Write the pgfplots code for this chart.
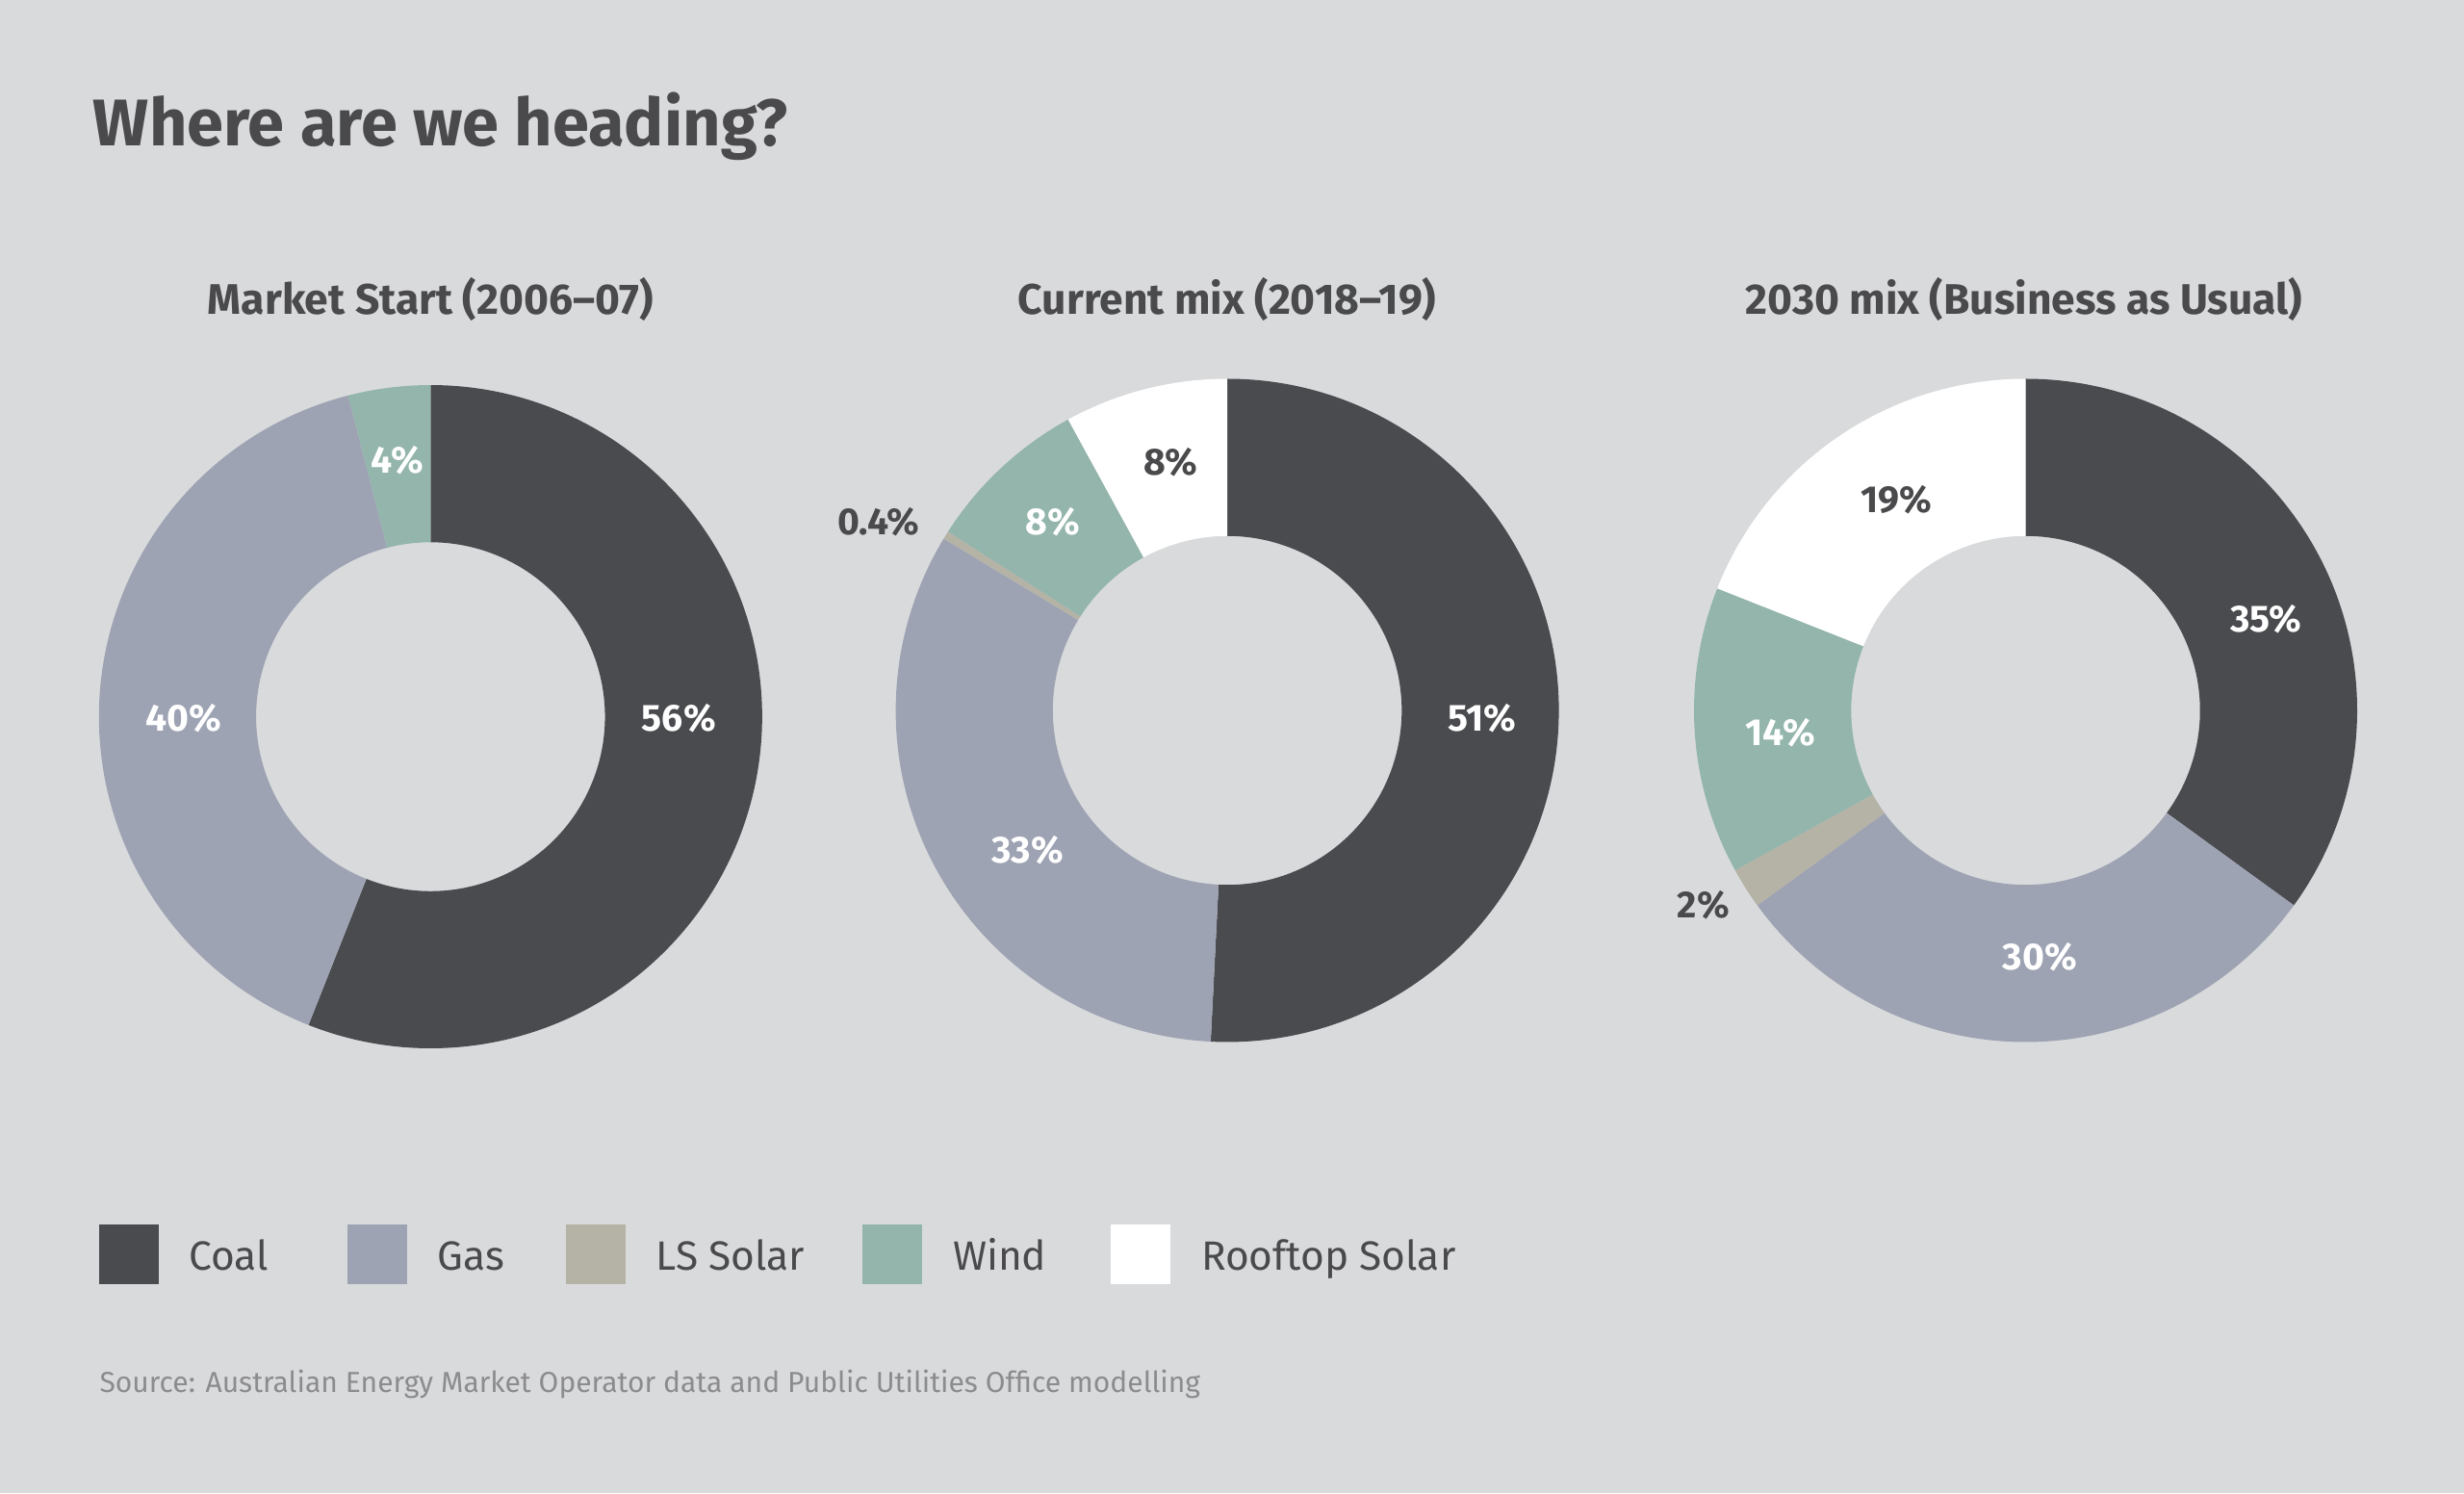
\documentclass[border=0pt]{standalone}
\usepackage{pgfplots}
\pgfplotsset{compat=1.18}
\usepackage{pgfplotstable}
\usepackage{fontspec}
\setmainfont{Fira Sans}

\definecolor{bg}{HTML}{D9DADC}
\definecolor{coal}{HTML}{4A4B4F}
\definecolor{gas}{HTML}{9EA3B3}
\definecolor{lssolar}{HTML}{B5B2A6}
\definecolor{wind}{HTML}{93B5AC}
\definecolor{roof}{HTML}{FFFFFF}
\definecolor{ink}{HTML}{4A4A4C}
\definecolor{note}{HTML}{8C8C8E}

% shares of generation, in per cent
\pgfplotstableread{
source value col
Coal 56 coal
Gas 40 gas
Wind 4 wind
}\mixstart

\pgfplotstableread{
source value col
Coal 51 coal
Gas 33 gas
LSSolar 0.4 lssolar
Wind 8 wind
Rooftop 8 roof
}\mixnow

\pgfplotstableread{
source value col
Coal 35 coal
Gas 30 gas
LSSolar 2 lssolar
Wind 14 wind
Rooftop 19 roof
}\mixbau

\def\Ro{105.5pt}
\def\Ri{55.5pt}
\def\dR{50pt}

% donut: table, centre x, centre y (axis units), clockwise from 12 o'clock
\newcommand\donut[3]{%
  \pgfplotstablegetrowsof{#1}\pgfmathtruncatemacro\nlast{\pgfplotsretval-1}%
  \def\tot{0}%
  \pgfplotsforeachungrouped \r in {0,...,\nlast}{%
    \pgfplotstablegetelem{\r}{value}\of{#1}%
    \pgfmathsetmacro\tot{\tot+\pgfplotsretval}}%
  \def\angA{90}%
  \pgfplotsforeachungrouped \r in {0,...,\nlast}{%
    \pgfplotstablegetelem{\r}{value}\of{#1}\let\wval\pgfplotsretval
    \pgfplotstablegetelem{\r}{col}\of{#1}\let\wcol\pgfplotsretval
    \pgfmathsetmacro\angB{\angA-(\wval/\tot)*360}%
    \edef\wedgepath{\noexpand\fill[\wcol] (axis cs:#2,#3) ++(\angA:\Ro)
      arc[start angle=\angA,end angle=\angB,radius=\Ro] -- ++(\angB:-\dR)
      arc[start angle=\angB,end angle=\angA,radius=\Ri] -- cycle;}%
    \wedgepath
    \let\angA\angB}%
}

\begin{document}
\begin{tikzpicture}
\begin{axis}[
    hide axis, scale only axis,
    width=784pt, height=475pt,
    xmin=0, xmax=1568, ymin=0, ymax=950,
    y dir=reverse, clip=false,
  ]
  \fill[bg] (axis cs:0,0) rectangle (axis cs:1568,950);

  \node[anchor=base west, inner sep=0pt, ink, font=\bfseries\fontsize{21}{24}\selectfont]
    at (axis cs:59,93) {Where are we heading?};

  \tikzset{sub/.style={anchor=base, ink, font=\bfseries\fontsize{13.6}{15}\selectfont},
    pw/.style={white, font=\bfseries\fontsize{12}{14}\selectfont},
    pd/.style={ink, font=\bfseries\fontsize{12}{14}\selectfont}}

  \node[sub] at (axis cs:274,200) {Market Start (2006–07)};
  \node[sub] at (axis cs:781,200) {Current mix (2018–19)};
  \node[sub] at (axis cs:1288,200) {2030 mix (Business as Usual)};

  \donut{\mixstart}{274}{456}
  \donut{\mixnow}{781}{452}
  \donut{\mixbau}{1289}{452}

  \node[pw] at (axis cs:432,457) {56\%};
  \node[pw] at (axis cs:117,457) {40\%};
  \node[pw] at (axis cs:253,293) {4\%};

  \node[pw] at (axis cs:943,457) {51\%};
  \node[pw] at (axis cs:654,541) {33\%};
  \node[pw] at (axis cs:670,332) {8\%};
  \node[pd] at (axis cs:745,294) {8\%};
  \node[pd] at (axis cs:559,332) {0.4\%};

  \node[pw] at (axis cs:1442,394) {35\%};
  \node[pw] at (axis cs:1298,609) {30\%};
  \node[pw] at (axis cs:1133,466) {14\%};
  \node[pd] at (axis cs:1207,318) {19\%};
  \node[pd] at (axis cs:1084,576) {2\%};

  % legend
  \tikzset{lg/.style={anchor=base west, inner sep=0pt, ink, font=\fontsize{13}{15}\selectfont}}
  \fill[coal] (axis cs:63,779) rectangle (axis cs:101,817);
  \node[lg] at (axis cs:120,808) {Coal};
  \fill[gas] (axis cs:221,779) rectangle (axis cs:259,817);
  \node[lg] at (axis cs:278,808) {Gas};
  \fill[lssolar] (axis cs:360,779) rectangle (axis cs:398,817);
  \node[lg] at (axis cs:417,808) {LS Solar};
  \fill[wind] (axis cs:549,779) rectangle (axis cs:587,817);
  \node[lg] at (axis cs:606,808) {Wind};
  \fill[roof] (axis cs:707,779) rectangle (axis cs:745,817);
  \node[lg] at (axis cs:764,808) {Rooftop Solar};

  \node[anchor=base west, inner sep=0pt, note, font=\fontsize{9.2}{11}\selectfont]
    at (axis cs:63,886) {Source: Australian Energy Market Operator data and Public Utilities Office modelling};
\end{axis}
\end{tikzpicture}
\end{document}
